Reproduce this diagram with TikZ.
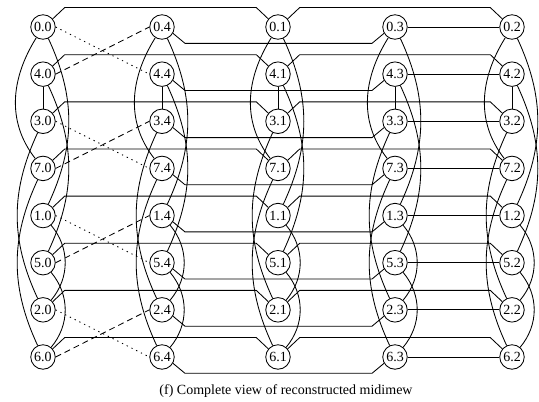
\documentclass[tikz,border=0pt]{standalone}
\usepackage{fontspec}
\setmainfont{Liberation Serif}
\usetikzlibrary{calc}
\begin{document}
\begin{tikzpicture}[x=1pt,y=1pt,line width=0.85pt,
    vtx/.style={draw,circle,fill=white,inner sep=0pt,minimum size=24.5pt,
        font=\fontsize{14}{14}\selectfont},
    wrapdot/.style={dash pattern=on 1.3pt off 4pt},
    wrapdash/.style={dash pattern=on 6pt off 4pt}]
\useasboundingbox (0,0) rectangle (539,-402);
% nodes: rows 0,4,3,7,1,5,2,6 ; columns .0 .4 .1 .3 .2
\foreach \v [count=\r from 0] in {0,4,3,7,1,5,2,6}
    \foreach \c/\xc in {0/43,4/162,1/278,3/395,2/512}
        \node[vtx] (n\v\c) at (\xc,{-27-47.14*\r}) {\v.\c};
% links inside one column
\foreach \c in {0,4,1,3,2}{
    \draw (n4\c) -- (n3\c);
    \draw (n0\c) to[out=-65,in=65] (n1\c);
    \draw (n4\c) to[out=-65,in=65] (n5\c);
    \draw (n1\c) to[out=-50,in=50] (n2\c);
    \draw (n5\c) to[out=-50,in=50] (n6\c);
    \draw (n0\c) to[out=-122,in=128] (n7\c);
    \draw (n3\c) to[out=-115,in=115] (n2\c);
    \draw (n7\c) to[out=-115,in=115] (n6\c);
}
% links along one row
\foreach \v in {0,4,3,7,1,5,2,6}{
    \draw (n\v0.40) -- ++(12,11.3) -- ($(n\v1.140)+(-12,11.3)$) -- (n\v1.140);
    \draw (n\v1.40) -- ++(12,11.3) -- ($(n\v2.140)+(-12,11.3)$) -- (n\v2.140);
    \draw (n\v4.-30) -- ++(12,-10) -- ($(n\v3.-150)+(-12,-10)$) -- (n\v3.-150);
    \draw (n\v3) -- (n\v2);
}
% wrap-around links
\foreach \a/\b in {0/4,3/7,1/5,2/6}{
    \draw[wrapdot] (n\a0.east) -- (n\b4.west);
    \draw[wrapdash] (n\b0.east) -- (n\a4.west);
}
\node[font=\fontsize{14}{14}\selectfont] (cap) at (286,-391)
    {(f) Complete view of reconstructed midimew};
\end{tikzpicture}
\end{document}
